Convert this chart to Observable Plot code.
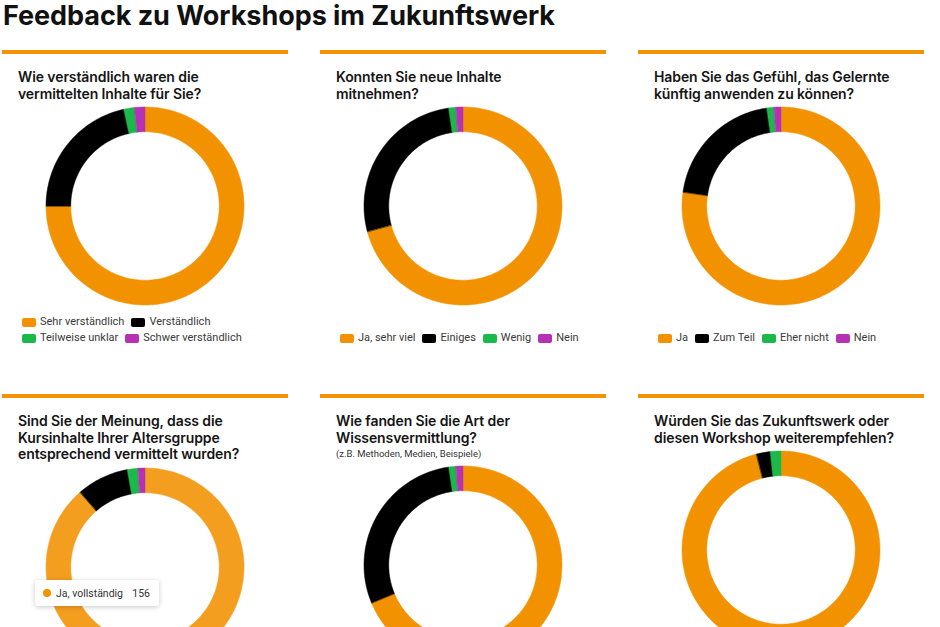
<!DOCTYPE html>
<html>
<head>
<meta charset="utf-8">
<script src="https://cdn.jsdelivr.net/npm/d3@7"></script>
<script src="https://cdn.jsdelivr.net/npm/@observablehq/plot@0.6"></script>
<style>
  html, body { margin: 0; padding: 0; background: #fff; }
  body { width: 940px; height: 627px; overflow: hidden; position: relative; font-family: Roboto, "Liberation Sans", sans-serif; color: #111; }
  h1 { position: absolute; left: 3px; top: -1px; margin: 0; font-family: Inter, Roboto, sans-serif; font-size: 27px; font-weight: 700; line-height: 33px; color: #111; white-space: nowrap; letter-spacing: -0.05px; }
  .grid { position: absolute; left: 2px; top: 50px; display: grid; grid-template-columns: repeat(3, 286px); column-gap: 32px; grid-auto-rows: 344px; }
  .card { border-top: 4px solid #f39200; position: relative; }
  .card h2 { margin: 15px 0 0 16px; font-family: Inter, Roboto, sans-serif; font-size: 14px; line-height: 16.5px; font-weight: 600; color: #151515; letter-spacing: -0.1px; white-space: nowrap; }
  .card .note { margin: 1px 0 0 16px; font-size: 9.5px; line-height: 14px; color: #333; }
  .chart { display: flex; justify-content: center; margin-top: 4px; }
  .chart svg { display: block; }
  .legend { position: absolute; left: 20px; bottom: 48px; width: 262px; }
  .legend > div { min-height: 0 !important; margin: 0 !important; font-family: Roboto, sans-serif !important; font-size: 11px !important; color: #3a3a3a !important; display: flex; flex-wrap: wrap; align-items: center; }
  .legend > div > span { margin-right: 7px !important; line-height: 16px; height: 16px; }
  .legend > div > span > svg { margin-right: 4px !important; }
  .legend rect { rx: 2px; ry: 2px; }
  .tip { position: absolute; left: 33px; top: 182px; width: 124px; height: 26px; box-sizing: border-box; background: #fff; border-radius: 3px; box-shadow: 0 1px 5px rgba(0,0,0,0.22); display: flex; align-items: center; padding: 0 9px 0 8px; font-size: 10.5px; color: #333; }
  .tip .dot { width: 8px; height: 8px; border-radius: 50%; margin-right: 5px; flex: none; }
  .tip .lab { flex: 1; }
</style>
</head>
<body>
<h1>Feedback zu Workshops im Zukunftswerk</h1>
<div class="grid" id="grid"></div>
<script>
// ---- Data ----
const titleBreaks = [
  ["Wie verständlich waren die", "vermittelten Inhalte für Sie?"],
  ["Konnten Sie neue Inhalte", "mitnehmen?"],
  ["Haben Sie das Gefühl, das Gelernte", "künftig anwenden zu können?"],
  ["Sind Sie der Meinung, dass die", "Kursinhalte Ihrer Altersgruppe", "entsprechend vermittelt wurden?"],
  ["Wie fanden Sie die Art der", "Wissensvermittlung?"],
  ["Würden Sie das Zukunftswerk oder", "diesen Workshop weiterempfehlen?"]
];
const notes = ["", "", "", "", "(z.B. Methoden, Medien, Beispiele)", ""];

const categories1 = ["Sehr verständlich", "Verständlich", "Teilweise unklar", "Schwer verständlich"];
const values1 = [132, 38, 3, 3];
const categories2 = ["Ja, sehr viel", "Einiges", "Wenig", "Nein"];
const values2 = [124, 47, 2, 2];
const categories3 = ["Ja", "Zum Teil", "Eher nicht", "Nein"];
const values3 = [136, 36, 2, 2];
const categories4 = ["Ja, vollständig", "Teilweise", "Eher nicht", "Nein"];
const values4 = [156, 15, 3, 2];
const categories5 = ["Sehr gut", "Gut", "Weniger gut", "Schlecht"];
const values5 = [121, 51, 2, 2];
const categories6 = ["Ja", "Vielleicht", "Eher nicht", "Nein"];
const values6 = [169, 4, 3, 0];

const colors = ["#f39200", "#000000", "#1bb84a", "#b631b4"];
const hoverColors = ["#f49e20", "#000000", "#1bb84a", "#b631b4"];

const allCategories = [categories1, categories2, categories3, categories4, categories5, categories6];
const allValues = [values1, values2, values3, values4, values5, values6];
const hovered = 3;           // the chart showing a tooltip
const visibleLegends = 3;    // legends of the lower row fall below the visible page

// ---- Build ----
const innerRatio = 0.75;
function ringPoints(cats, vals) {
  const pie = d3.pie().sort(null).value(d => d.value);
  const arcs = pie(cats.map((c, i) => ({cat: c, value: vals[i]})));
  const pts = [];
  for (const a of arcs) {
    if (a.endAngle - a.startAngle <= 0) continue;
    const steps = Math.max(2, Math.ceil((a.endAngle - a.startAngle) / (2 * Math.PI) * 240));
    for (let s = 0; s <= steps; s++) {
      const ang = a.startAngle + (a.endAngle - a.startAngle) * s / steps;
      pts.push({
        cat: a.data.cat,
        x1: Math.sin(ang), y1: Math.cos(ang),
        x2: innerRatio * Math.sin(ang), y2: innerRatio * Math.cos(ang)
      });
    }
  }
  return pts;
}

const grid = document.getElementById("grid");
allCategories.forEach((cats, k) => {
  const vals = allValues[k];
  const card = document.createElement("div");
  card.className = "card";
  const h2 = document.createElement("h2");
  h2.innerHTML = titleBreaks[k].join("<br>");
  card.appendChild(h2);
  if (notes[k]) {
    const n = document.createElement("div");
    n.className = "note";
    n.textContent = notes[k];
    card.appendChild(n);
  }
  const range = k === hovered ? hoverColors : colors;
  const chart = Plot.plot({
    width: 200, height: 200, margin: 1,
    x: {domain: [-1, 1], axis: null},
    y: {domain: [-1, 1], axis: null},
    color: {domain: cats, range: range},
    style: {background: "transparent", overflow: "visible"},
    marks: [
      Plot.area(ringPoints(cats, vals), {
        x1: "x1", y1: "y1", x2: "x2", y2: "y2",
        z: "cat", fill: "cat", stroke: "cat", strokeWidth: 0.5, curve: "linear"
      })
    ]
  });
  const cdiv = document.createElement("div");
  cdiv.className = "chart";
  cdiv.appendChild(chart);
  card.appendChild(cdiv);

  if (k < visibleLegends) {
    const ldiv = document.createElement("div");
    ldiv.className = "legend";
    ldiv.appendChild(Plot.legend({
      color: {type: "ordinal", domain: cats, range: colors},
      legend: "swatches", swatchWidth: 14, swatchHeight: 9
    }));
    card.appendChild(ldiv);
  }

  if (k === hovered) {
    const tip = document.createElement("div");
    tip.className = "tip";
    tip.innerHTML = `<span class="dot" style="background:${colors[0]}"></span><span class="lab">${cats[0]}</span><span class="val">${vals[0]}</span>`;
    card.appendChild(tip);
  }
  grid.appendChild(card);
});
</script>
</body>
</html>
